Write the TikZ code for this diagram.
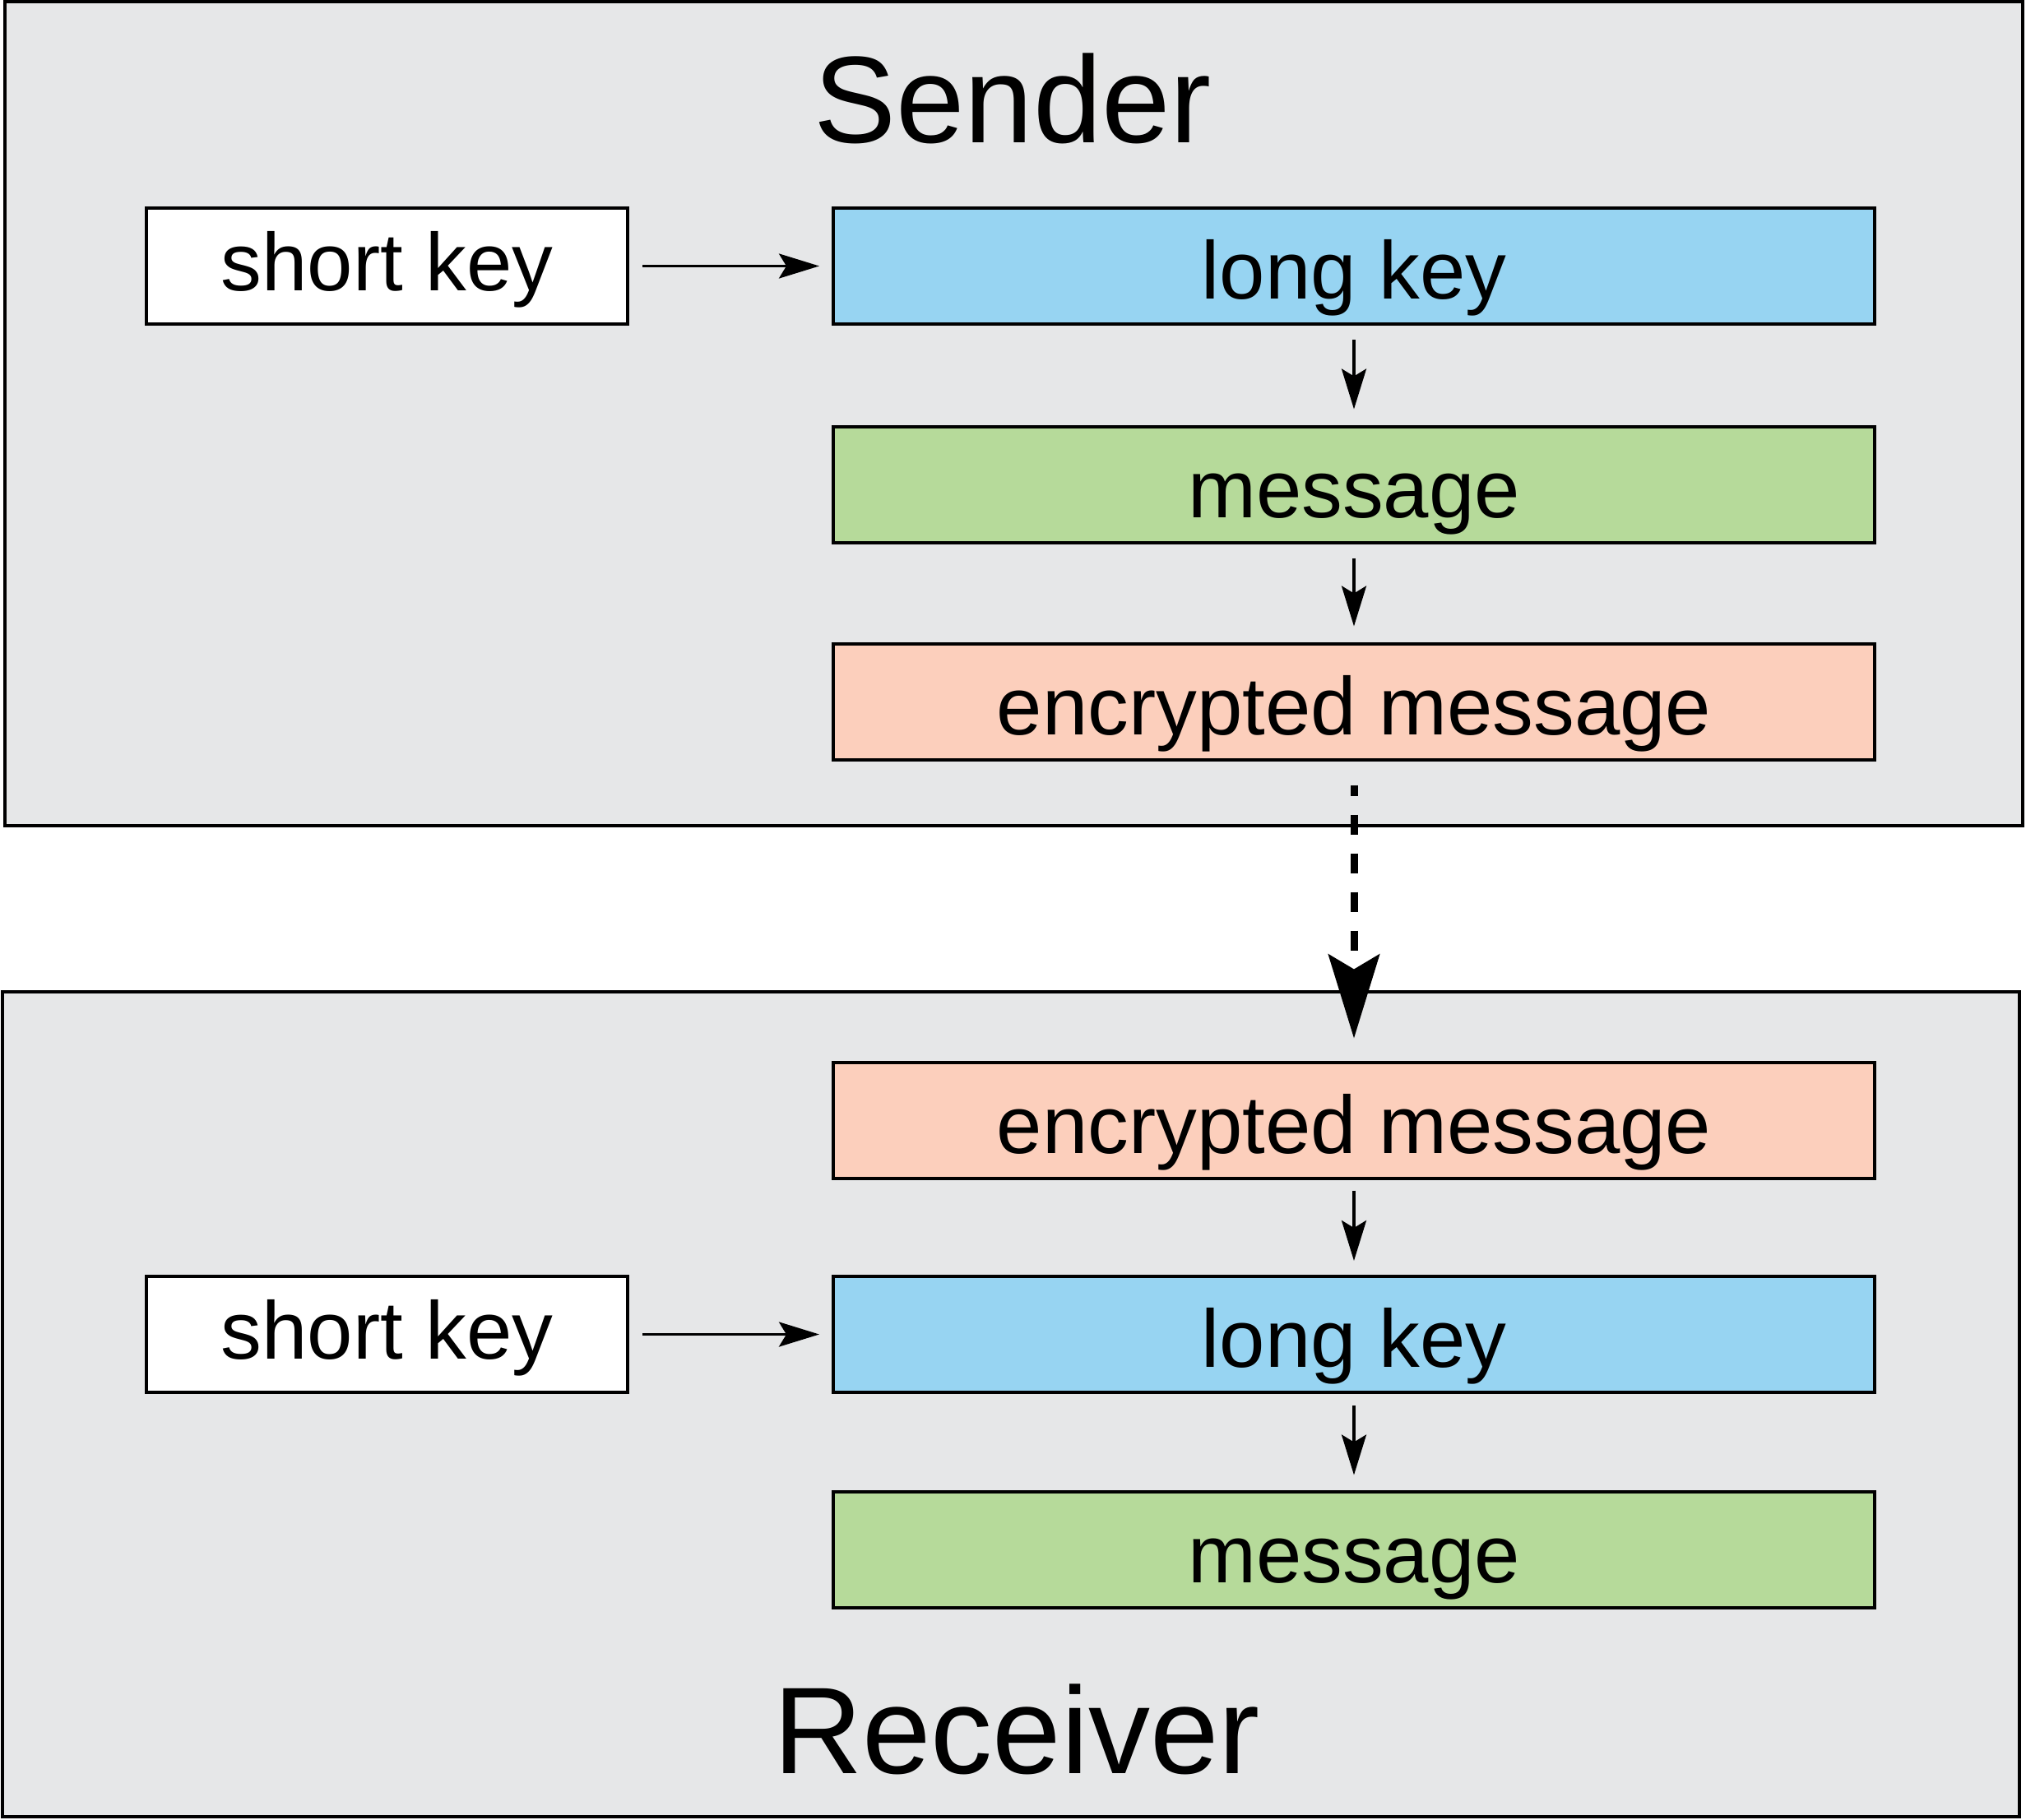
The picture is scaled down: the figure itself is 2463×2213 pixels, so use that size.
\documentclass[tikz,border=0pt]{standalone}
\usepackage{fontspec}
\setmainfont{Liberation Sans}
\usetikzlibrary{arrows.meta}
\definecolor{panelgray}{HTML}{E6E7E8}
\definecolor{keyblue}{HTML}{97D4F2}
\definecolor{msggreen}{HTML}{B6DA9A}
\definecolor{encpeach}{HTML}{FCCFBC}
\begin{document}
\begin{tikzpicture}[x=1pt,y=-1pt,
  panel/.style={draw=black,line width=4pt,fill=panelgray},
  box/.style={draw=black,line width=4pt,rectangle,inner sep=0pt,
    minimum height=141pt,font=\fontsize{99.5}{110}\selectfont,
    text height=100pt,text depth=20pt},
  longbox/.style={box,minimum width=1266pt},
  shortbox/.style={box,fill=white,minimum width=585pt,text height=80pt,text depth=20pt},
  title/.style={anchor=base,inner sep=0pt,font=\fontsize{150}{160}\selectfont},
  arr/.style={line width=3.5pt,-{Stealth[length=49pt,width=30pt,inset=9pt]}},
  bigarr/.style={line width=9pt,dash pattern=on 24pt off 23pt,dash phase=11pt,
    -{Stealth[length=102pt,width=62pt,inset=18pt]}}
]
\useasboundingbox (0,0) rectangle (2463,2213);
% panels
\path[panel] (6,2) rectangle (2459,1004);
\path[panel] (3,1206) rectangle (2455,2209);
% titles
\node[title] (sendtitle) at (1231,173) {Sender};
\node[title] (recvtitle) at (1236,2156) {Receiver};
% sender boxes
\node[shortbox] (sk1) at (470.5,323.5) {short key};
\node[longbox,fill=keyblue] (lk1) at (1646,323.5) {long key};
\node[longbox,fill=msggreen] (m1) at (1646,589) {message};
\node[longbox,fill=encpeach] (e1) at (1646,853) {encrypted message};
% receiver boxes
\node[longbox,fill=encpeach] (e2) at (1646,1362) {encrypted message};
\node[shortbox] (sk2) at (470.5,1622.5) {short key};
\node[longbox,fill=keyblue] (lk2) at (1646,1622.5) {long key};
\node[longbox,fill=msggreen] (m2) at (1646,1884) {message};
% connectors
\draw[arr,shorten <=16pt,shorten >=15pt] (sk1.east) -- (lk1.west);
\draw[arr,shorten <=17pt,shorten >=19pt] (lk1.south) -- (m1.north);
\draw[arr,shorten <=17pt,shorten >=19pt] (m1.south) -- (e1.north);
\draw[bigarr,shorten <=29pt,shorten >=27pt] (e1.south) -- (e2.north);
\draw[arr,shorten <=13pt,shorten >=17pt] (e2.south) -- (lk2.north);
\draw[arr,shorten <=16pt,shorten >=15pt] (sk2.east) -- (lk2.west);
\draw[arr,shorten <=14pt,shorten >=18pt] (lk2.south) -- (m2.north);
\end{tikzpicture}
\end{document}
